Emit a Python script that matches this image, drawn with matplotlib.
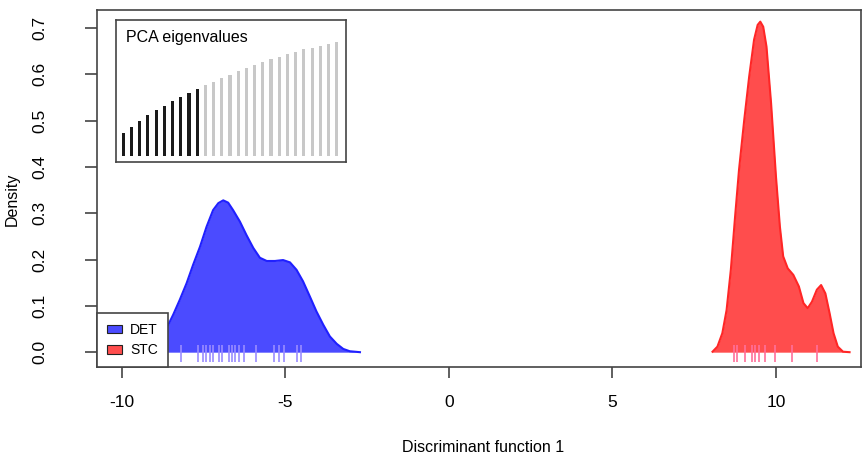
import matplotlib
matplotlib.use("Agg")
import matplotlib.pyplot as plt
from matplotlib.patches import Patch

plt.rcParams['font.family'] = ['Liberation Sans', 'DejaVu Sans']

# density curves (x, density)
det_x = [-9.6, -9.3, -9.0, -8.80, -8.63, -8.43, -8.23, -8.02, -7.82, -7.61, -7.41,
         -7.21, -7.05, -6.90, -6.75, -6.60, -6.39, -6.19, -5.98, -5.78, -5.57,
         -5.32, -5.07, -4.86, -4.66, -4.46, -4.25, -4.05, -3.84, -3.64, -3.43,
         -3.23, -3.03, -2.72]
det_y = [0.0, 0.004, 0.015, 0.031, 0.052, 0.081, 0.113, 0.149, 0.189, 0.228, 0.271,
         0.307, 0.322, 0.328, 0.323, 0.307, 0.282, 0.253, 0.225, 0.204, 0.197,
         0.197, 0.199, 0.194, 0.178, 0.153, 0.120, 0.088, 0.059, 0.034, 0.018,
         0.007, 0.002, 0.0]

stc_x = [8.06, 8.21, 8.36, 8.49, 8.62, 8.75, 8.87, 9.03, 9.18, 9.33, 9.44, 9.52,
         9.61, 9.71, 9.85, 10.0, 10.12, 10.22, 10.36, 10.53, 10.70, 10.84, 10.97,
         11.10, 11.25, 11.38, 11.51, 11.64, 11.76, 11.89, 12.05, 12.25]
stc_y = [0.001, 0.012, 0.041, 0.091, 0.178, 0.293, 0.394, 0.502, 0.595, 0.675, 0.707, 0.714,
         0.703, 0.660, 0.538, 0.379, 0.271, 0.207, 0.181, 0.167, 0.142, 0.106, 0.095,
         0.109, 0.135, 0.145, 0.127, 0.084, 0.041, 0.012, 0.001, 0.0]

# rug positions
det_rug = [-8.18, -7.67, -7.52, -7.42, -7.32, -7.22, -7.03, -6.93, -6.71, -6.63,
           -6.53, -6.43, -6.28, -5.89, -5.34, -5.20, -5.03, -4.66, -4.52]
stc_rug = [8.72, 8.82, 9.06, 9.28, 9.35, 9.47, 9.66, 9.96, 10.50, 11.26]

# inset: PCA eigenvalues (first n_kept shown in black)
eig_values = [0.70, 0.88, 1.06, 1.23, 1.38, 1.50, 1.64, 1.76, 1.90, 2.00,
              2.12, 2.23, 2.33, 2.44, 2.55, 2.63, 2.73, 2.83, 2.91, 2.98,
              3.05, 3.13, 3.20, 3.25, 3.31, 3.37, 3.41]
n_kept = 10

groups = ['DET', 'STC']
x_ticks = [-10, -5, 0, 5, 10]
y_ticks = [0.0, 0.1, 0.2, 0.3, 0.4, 0.5, 0.6, 0.7]

fig = plt.figure(figsize=(8.63, 4.58), dpi=100)
ax = fig.add_axes([0.1124, 0.1987, 0.8853, 0.7803])

ax.fill_between(det_x, det_y, color='#4b4bff', lw=0)
ax.plot(det_x, det_y, color='#2020ff', lw=1.5)
ax.fill_between(stc_x, stc_y, color='#ff4d4d', lw=0)
ax.plot(stc_x, stc_y, color='#ff2626', lw=1.5)

ax.vlines(det_rug, -0.022, 0.016, color='#9a8cff', lw=1.2)
ax.vlines(stc_rug, -0.022, 0.016, color='#ff6f9a', lw=1.2)

ax.set_xlim(-10.76, 12.6)
ax.set_ylim(-0.032, 0.740)
ax.set_xticks(x_ticks)
ax.set_xticklabels([str(v) for v in x_ticks])
ax.set_yticks(y_ticks)
ax.set_yticklabels(['%.1f' % v for v in y_ticks], rotation=90, va='center')
ax.tick_params(axis='x', length=8, width=1.2, pad=12, labelsize=12.5, color='#444444')
ax.tick_params(axis='y', length=9, width=1.2, pad=27, labelsize=12.5, color='#444444')
for sp in ax.spines.values():
    sp.set_color('#444444')
    sp.set_linewidth(1.2)

ax.set_xlabel('Discriminant function 1', fontsize=11.5)
ax.set_ylabel('Density', fontsize=11.5)
ax.xaxis.set_label_coords(0.505, -0.205)
ax.yaxis.set_label_coords(-0.101, 0.47)

handles = [Patch(facecolor='#4b4bff', edgecolor='#222222', lw=0.8),
           Patch(facecolor='#ff4d4d', edgecolor='#222222', lw=0.8)]
leg = ax.legend(handles, groups, loc='lower left', bbox_to_anchor=(0.0, 0.0),
                fontsize=10, frameon=True, fancybox=False, borderaxespad=0,
                handlelength=1.1, handleheight=0.55, handletextpad=0.6,
                borderpad=0.7, labelspacing=0.45)
leg.get_frame().set_edgecolor('#444444')
leg.get_frame().set_linewidth(1.2)
leg.get_frame().set_alpha(1)

# inset with eigenvalue bars
ax_in = fig.add_axes([0.1344, 0.647, 0.2662, 0.3093])
idx = list(range(len(eig_values)))
colors = ['#1a1a1a' if i < n_kept else '#c8c8c8' for i in idx]
ax_in.bar(idx, eig_values, width=0.38, color=colors)
ax_in.set_xlim(-0.89, 27.1)
ax_in.set_ylim(-0.17, 4.08)
ax_in.set_xticks([])
ax_in.set_yticks([])
for sp in ax_in.spines.values():
    sp.set_color('#444444')
    sp.set_linewidth(1.2)
ax_in.text(0.043, 0.88, 'PCA eigenvalues', transform=ax_in.transAxes,
           fontsize=11.5, va='center', ha='left')

fig.savefig('out.png', dpi=100)
